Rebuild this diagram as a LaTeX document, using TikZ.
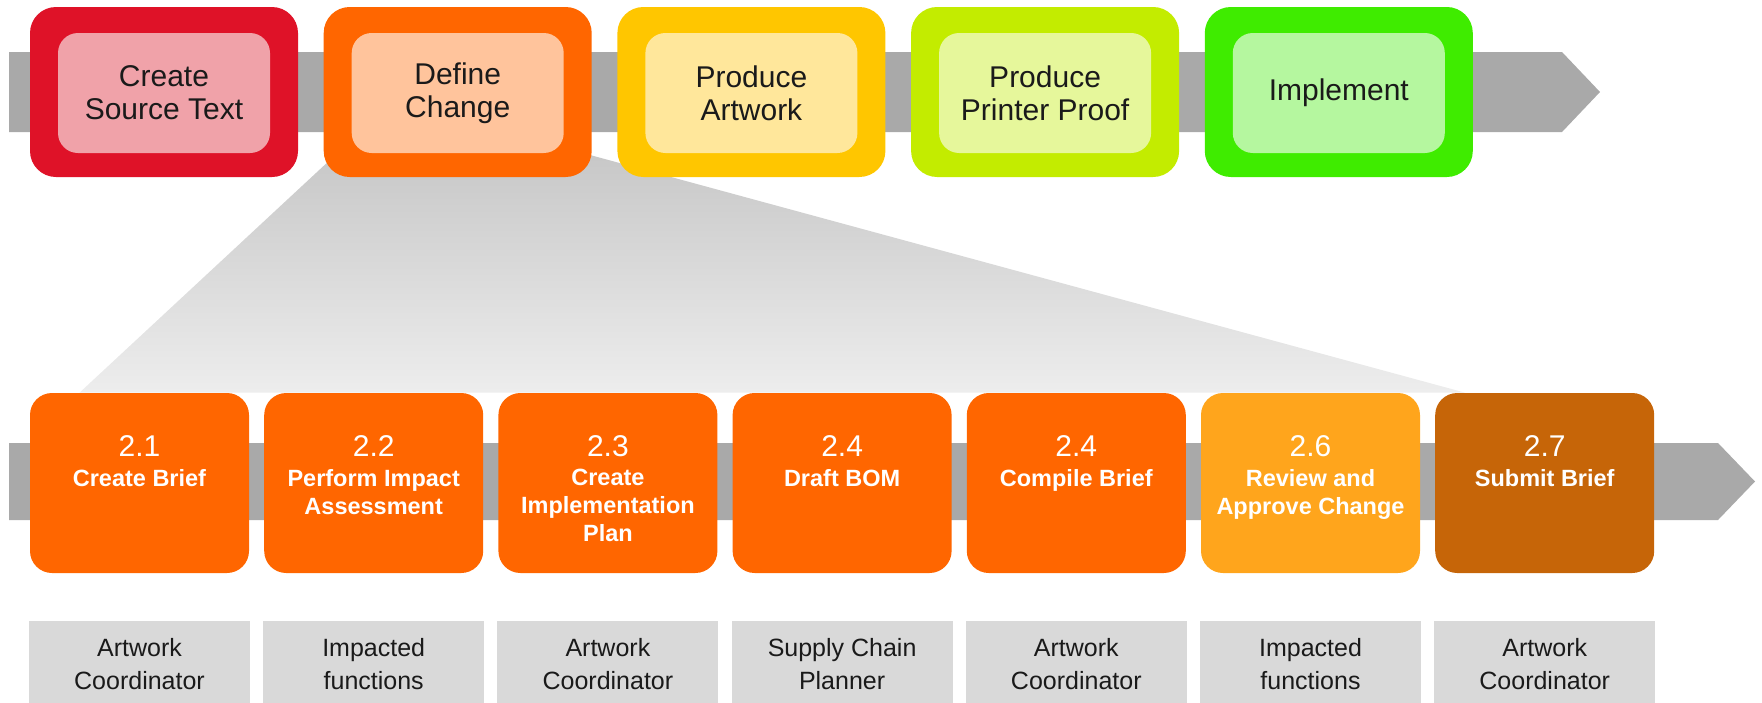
\documentclass[tikz,border=0pt]{standalone}
\usepackage{fontspec}
\setmainfont{Liberation Sans}
\usetikzlibrary{calc,backgrounds}

\definecolor{ink}{HTML}{1A1A1A}
\definecolor{bandgrey}{HTML}{A9A9A9}
\definecolor{rolegrey}{HTML}{D9D9D9}
\definecolor{srcdark}{HTML}{DF1228}
\definecolor{srclight}{HTML}{F0A2A9}
\definecolor{defdark}{HTML}{FF6600}
\definecolor{deflight}{HTML}{FFC49C}
\definecolor{artdark}{HTML}{FFC600}
\definecolor{artlight}{HTML}{FFE79B}
\definecolor{proofdark}{HTML}{C3EC00}
\definecolor{prooflight}{HTML}{E6F79B}
\definecolor{impdark}{HTML}{3FEC00}
\definecolor{implight}{HTML}{B5F79F}
\definecolor{steporange}{HTML}{FF6600}
\definecolor{stepamber}{HTML}{FFA51C}
\definecolor{stepbrown}{HTML}{C66508}

\tikzset{
  phase/.style={rounded corners=13pt, minimum width=134pt, minimum height=85pt, inner sep=0pt},
  phasein/.style={rounded corners=10pt, minimum width=106pt, minimum height=60pt,
    inner sep=0pt, align=center, text=ink, font=\fontsize{15}{16.5}\selectfont},
  stepbox/.style={rounded corners=11pt, minimum width=109.5pt, minimum height=90pt, inner sep=0pt},
  stepnum/.style={anchor=base, inner sep=0pt, text=white, font=\fontsize{15}{18}\selectfont},
  steptitle/.style={anchor=north, inner sep=0pt, align=center, text=white,
    font=\bfseries\fontsize{11.75}{14}\selectfont},
  rolebox/.style={fill=rolegrey, minimum width=110.5pt, minimum height=43.5pt, inner sep=0pt,
    align=center, text=ink, font=\fontsize{12.5}{16.5}\selectfont}
}

\begin{document}
\begin{tikzpicture}[x=0.5pt, y=-0.5pt]
  \useasboundingbox (0,0) rectangle (1762,702);

  % process arrows behind the boxes
  \fill[bandgrey] (9,52) -- (1562,52) -- (1600,92) -- (1562,132) -- (9,132) -- cycle;
  \fill[bandgrey] (9,443) -- (1718,443) -- (1755,481.5) -- (1718,520) -- (9,520) -- cycle;

  % main phases
  \foreach \t/\dark/\light [count=\i from 0] in
    {{Create\\Source Text}/srcdark/srclight,
     {Define\\Change}/defdark/deflight,
     {Produce\\Artwork}/artdark/artlight,
     {Produce\\Printer Proof}/proofdark/prooflight,
     {Implement}/impdark/implight}
  {
    \node[phase, fill=\dark] (p\i) at ({164+293.7*\i},92) {};
    \node[phasein, fill=\light] (q\i) at ({164+293.7*\i},93) {\t};
  }

  % sub-steps of "Define Change"
  \foreach \n/\t/\c/\r [count=\i from 0] in
    {2.1/{Create Brief}/steporange/{Artwork\\Coordinator},
     2.2/{Perform Impact\\Assessment}/steporange/{Impacted\\functions},
     2.3/{Create\\Implementation\\Plan}/steporange/{Artwork\\Coordinator},
     2.4/{Draft BOM}/steporange/{Supply Chain\\Planner},
     2.4/{Compile Brief}/steporange/{Artwork\\Coordinator},
     2.6/{Review and\\Approve Change}/stepamber/{Impacted\\functions},
     2.7/{Submit Brief}/stepbrown/{Artwork\\Coordinator}}
  {
    \node[stepbox, fill=\c] (s\i) at ({139.5+234.2*\i},483) {};
    \node[stepnum] (n\i) at ($(s\i.north)+(0,64)$) {\n};
    \node[steptitle] (t\i) at ($(s\i.north)+(0,76.5)$) {\t};
    \node[rolebox] (r\i) at ({139.5+234.2*\i},664.5) {\r};
  }

  % zoom wedge from phase 2 down to its steps
  \begin{pgfonlayer}{background}
    \shade[top color=black!22, bottom color=black!7]
      ($(p1.south west)+(17,-27)$) -- ($(p1.south east)+(-19,-27)$)
      -- ($(s6.north west)+(30,0)$) -- ($(s0.north west)+(50,0)$) -- cycle;
  \end{pgfonlayer}
\end{tikzpicture}
\end{document}
